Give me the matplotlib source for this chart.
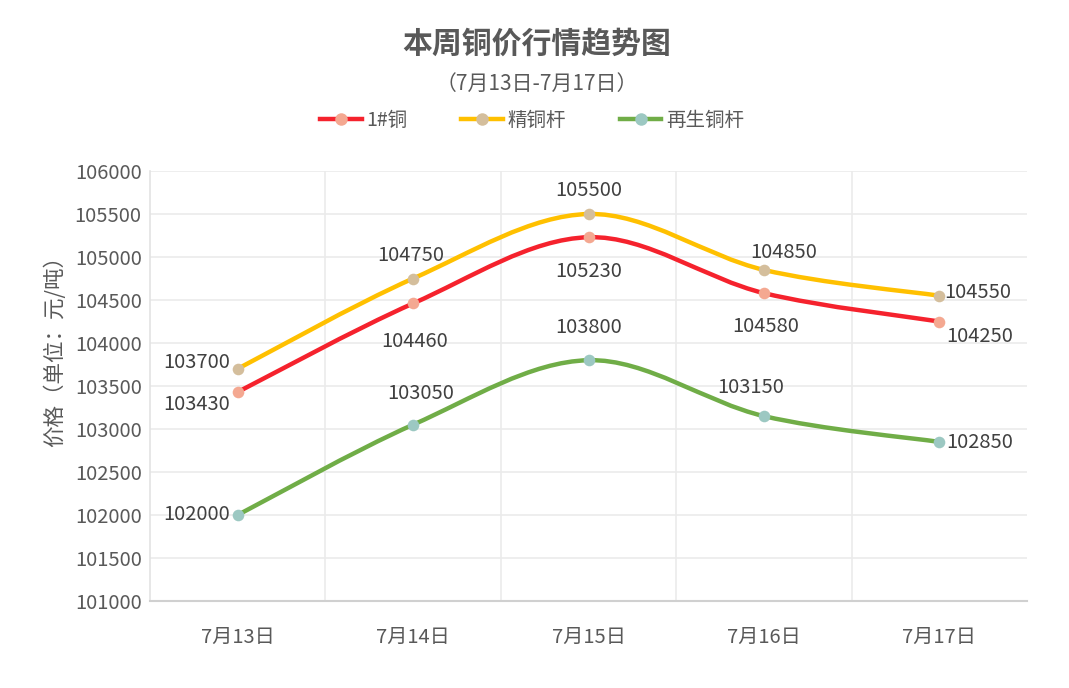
import matplotlib
matplotlib.use("Agg")
import matplotlib.pyplot as plt
import numpy as np
from matplotlib.path import Path
from matplotlib.patches import PathPatch
from matplotlib.lines import Line2D

plt.rcParams["font.family"] = ["Noto Sans CJK SC", "DejaVu Sans"]

dates = ["7月13日", "7月14日", "7月15日", "7月16日", "7月17日"]
copper_1 = [103430, 104460, 105230, 104580, 104250]
rod_refined = [103700, 104750, 105500, 104850, 104550]
rod_recycled = [102000, 103050, 103800, 103150, 102850]

series_names = ["1#铜", "精铜杆", "再生铜杆"]
line_colors = ["#F5222D", "#FFC000", "#70AD47"]
marker_colors = ["#F4A891", "#D4BE9C", "#9CC8C2"]

# label placement per point: (dx px, dy px, ha, va)
label_pos = [
    [(-8, -12, "right", "center"), (2, -38, "center", "center"), (0, -34, "center", "center"),
     (2, -33, "center", "center"), (7, -15, "left", "center")],
    [(-8, 6, "right", "center"), (-2, 23, "center", "center"), (0, 24, "center", "center"),
     (20, 17, "center", "center"), (5, 3, "left", "center")],
    [(-8, 0, "right", "center"), (8, 31, "center", "center"), (0, 33, "center", "center"),
     (-13, 29, "center", "center"), (7, -1, "left", "center")],
]


def smooth_path(xs, ys):
    # excel-style smoothing: cubic bezier between neighbours
    pts = np.column_stack([xs, ys]).astype(float)
    n = len(pts)
    verts = [pts[0]]
    codes = [Path.MOVETO]
    for i in range(n - 1):
        p0 = pts[i - 1] if i > 0 else pts[i]
        p1 = pts[i]
        p2 = pts[i + 1]
        p3 = pts[i + 2] if i + 2 < n else pts[i + 1]
        c1 = p1 + (p2 - p0) / 6.0
        c2 = p2 - (p3 - p1) / 6.0
        verts += [c1, c2, p2]
        codes += [Path.CURVE4] * 3
    return Path(verts, codes)


fig = plt.figure(figsize=(10.69, 6.88), dpi=100)
ax = fig.add_axes([150 / 1069, 1 - 601 / 688, 877 / 1069, 430 / 688])

x = np.arange(len(dates))
all_series = [copper_1, rod_refined, rod_recycled]
for k, ys in enumerate(all_series):
    patch = PathPatch(smooth_path(x, ys), facecolor="none", edgecolor=line_colors[k],
                      lw=3.2, capstyle="round", zorder=3)
    ax.add_patch(patch)
    ax.scatter(x, ys, s=70, color=marker_colors[k], zorder=4, linewidths=0)
    for i, v in enumerate(ys):
        dx, dy, ha, va = label_pos[k][i]
        ax.annotate(str(v), (x[i], v), xytext=(dx, dy), textcoords="offset pixels",
                    ha=ha, va=va, fontsize=14.5, color="#404040", zorder=5)

ax.set_xlim(-0.5, 4.5)
ax.set_ylim(101000, 106000)
ax.set_yticks(np.arange(101000, 106001, 500))
ax.set_xticks(x)
ax.set_xticklabels(dates)
ax.set_xticks(np.arange(0.5, 4.5, 1), minor=True)
ax.tick_params(axis="both", which="both", length=0, labelsize=14.5, colors="#595959")
ax.tick_params(axis="x", pad=19)
ax.tick_params(axis="y", pad=6)
ax.grid(axis="y", which="major", color="#EBEBEB", lw=1.2)
ax.grid(axis="x", which="minor", color="#EBEBEB", lw=1.2)
ax.set_axisbelow(True)
for side in ["top", "right"]:
    ax.spines[side].set_visible(False)
ax.spines["left"].set_color("#E3E3E3")
ax.spines["left"].set_linewidth(1.2)
ax.spines["bottom"].set_color("#D0D0D0")
ax.spines["bottom"].set_linewidth(1.5)

fig.text(537 / 1069, 1 - 44 / 688, "本周铜价行情趋势图", ha="center", va="center",
         fontsize=21.5, fontweight="bold", color="#595959")
fig.text(537 / 1069, 1 - 84 / 688, "（7月13日-7月17日）", ha="center", va="center",
         fontsize=15, color="#595959")
fig.text(55 / 1069, 1 - 346 / 688, "价格（单位：元/吨）", ha="center", va="center",
         rotation=90, fontsize=15.5, color="#595959")

handles = [Line2D([0], [0], color=line_colors[k], lw=3.2, marker="o", markersize=9,
                  markerfacecolor=marker_colors[k], markeredgewidth=0)
           for k in range(3)]
fig.legend(handles, series_names, loc="center", bbox_to_anchor=(532 / 1069, 1 - 120 / 688),
           ncol=3, frameon=False, fontsize=14, handlelength=2.15, handletextpad=0.25,
           columnspacing=2.75, labelcolor="#595959")

fig.savefig("out.png", dpi=100)
